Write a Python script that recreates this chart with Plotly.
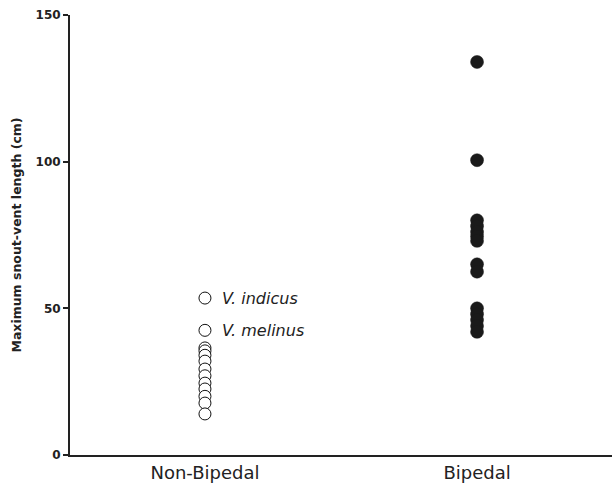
import plotly.graph_objects as go

categories = ["Non-Bipedal", "Bipedal"]
non_bipedal = [53.5, 42.5, 36.5, 35.5, 34.0, 32.0, 29.3, 27.0, 24.5, 22.5, 20.0, 17.7, 14.0]
bipedal = [134.0, 100.5, 80.0, 78.0, 76.0, 74.5, 73.0, 65.0, 62.5, 50.0, 48.0, 46.0, 44.0, 42.0]
labels = [("V. indicus", 53.5), ("V. melinus", 42.5)]
y_ticks = [0, 50, 100, 150]

font_family = "DejaVu Sans, sans-serif"

fig = go.Figure()
fig.add_trace(go.Scatter(
    x=[0] * len(non_bipedal), y=non_bipedal, mode="markers",
    marker=dict(size=12, color="white", line=dict(color="#111111", width=1)),
    showlegend=False, hoverinfo="y"))
fig.add_trace(go.Scatter(
    x=[1] * len(bipedal), y=bipedal, mode="markers",
    marker=dict(size=13, color="#1a1a1a", line=dict(color="#1a1a1a", width=0.5)),
    showlegend=False, hoverinfo="y"))

for text, yv in labels:
    fig.add_annotation(x=0, y=yv, text=f"<i>{text}</i>", showarrow=False,
                       xanchor="left", xshift=15, yanchor="middle",
                       font=dict(family=font_family, size=16, color="#222222"))

fig.update_layout(
    width=612, height=487,
    margin=dict(l=70, r=0, t=15, b=32),
    paper_bgcolor="white", plot_bgcolor="white",
    font=dict(family=font_family, color="#222222"),
    xaxis=dict(range=[-0.496, 1.496], tickvals=[0, 1], ticktext=categories,
               showgrid=False, zeroline=False, showline=True, linecolor="#222222",
               linewidth=2, ticks="", tickfont=dict(size=18, color="#222222"),
               automargin=False, fixedrange=True),
    yaxis=dict(range=[0, 150], tickvals=y_ticks, showgrid=False, zeroline=False,
               showline=True, linecolor="#222222", linewidth=2, ticks="outside",
               ticklen=5, tickwidth=2, tickcolor="#222222",
               tickfont=dict(size=12, color="#222222", weight="bold"),
               title=dict(text="Maximum snout-vent length (cm)",
                          font=dict(size=12.5, color="#222222", weight="bold"),
                          standoff=11),
               automargin=False, fixedrange=True),
)

fig.write_html("out.html", config={"displayModeBar": False},
               post_script="document.body.style.margin='0';document.body.style.overflow='hidden';")
